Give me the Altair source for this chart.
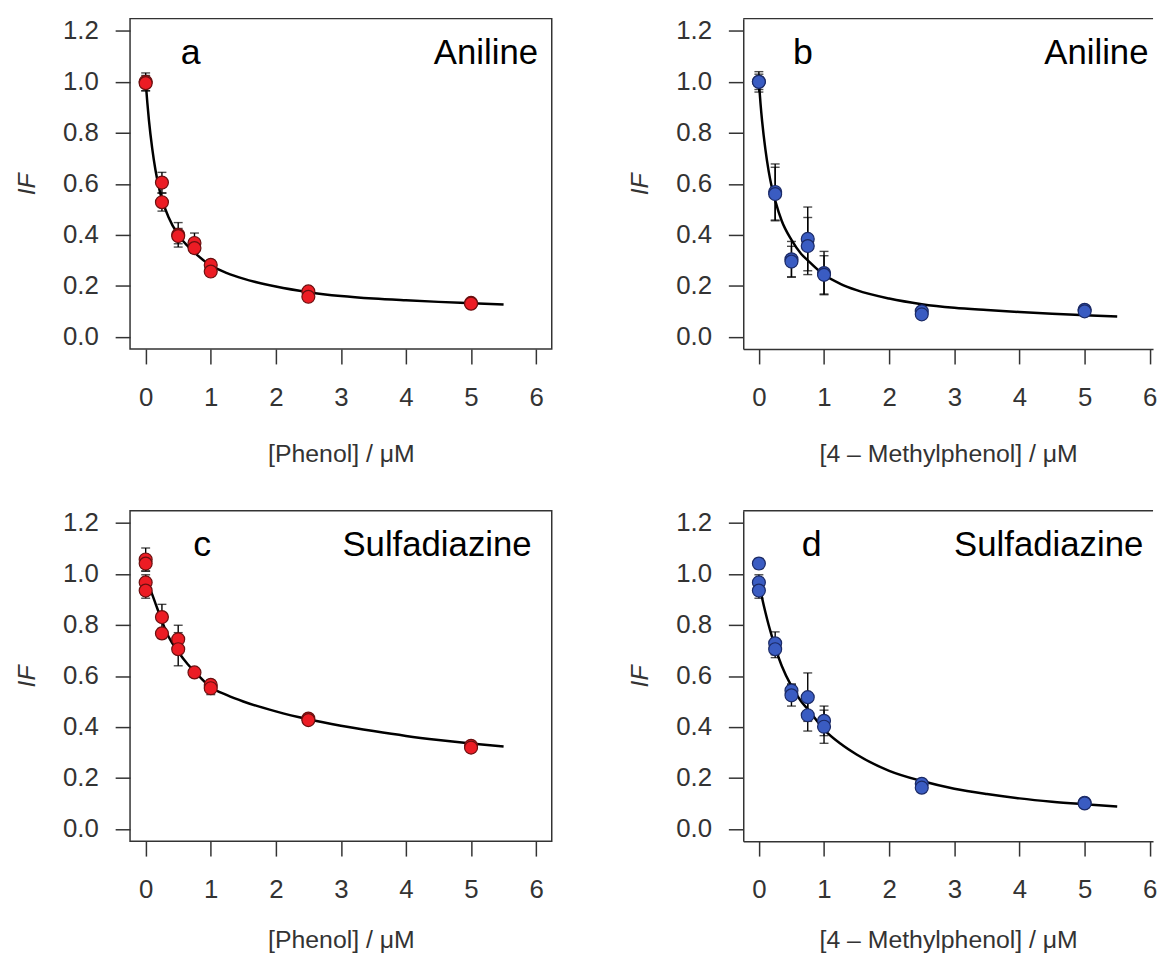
import altair as alt
import pandas as pd

# ---------------- data ----------------
# Panel a: Phenol / Aniline
a_x = [0, 0, 0.25, 0.25, 0.5, 0.5, 0.75, 0.75, 1.0, 1.0, 2.5, 2.5, 5.0, 5.0]
a_y = [1.00, 0.995, 0.605, 0.528, 0.400, 0.395, 0.368, 0.348, 0.282, 0.256, 0.178, 0.157, 0.133, 0.130]
a_err = [0.035, 0.03, 0.04, 0.035, 0.048, 0.03, 0.039, 0.02, 0.02, 0.015, 0.01, 0.01, 0.01, 0.008]

# Panel b: 4-Methylphenol / Aniline
b_x = [0, 0, 0.25, 0.25, 0.5, 0.5, 0.75, 0.75, 1.0, 1.0, 2.5, 2.5, 5.0, 5.0]
b_y = [1.00, 1.00, 0.568, 0.560, 0.304, 0.295, 0.384, 0.356, 0.250, 0.243, 0.100, 0.088, 0.106, 0.100]
b_err = [0.04, 0.03, 0.11, 0.105, 0.07, 0.06, 0.125, 0.112, 0.085, 0.075, 0.01, 0.01, 0.015, 0.01]

# Panel c: Phenol / Sulfadiazine
c_x = [0, 0, 0, 0, 0.25, 0.25, 0.5, 0.5, 0.75, 1.0, 1.0, 2.5, 2.5, 5.0, 5.0]
c_y = [1.057, 1.041, 0.967, 0.935, 0.831, 0.767, 0.744, 0.705, 0.614, 0.565, 0.552, 0.433, 0.427, 0.326, 0.319]
c_err = [0.045, 0.03, 0.03, 0.03, 0.05, 0.02, 0.055, 0.065, 0.01, 0.02, 0.025, 0.01, 0.01, 0.01, 0.01]

# Panel d: 4-Methylphenol / Sulfadiazine
d_x = [0, 0, 0, 0.25, 0.25, 0.5, 0.5, 0.75, 0.75, 1.0, 1.0, 2.5, 2.5, 5.0, 5.0]
d_y = [1.041, 0.967, 0.935, 0.728, 0.705, 0.543, 0.524, 0.517, 0.446, 0.424, 0.401, 0.177, 0.162, 0.103, 0.100]
d_err = [0.02, 0.03, 0.03, 0.045, 0.033, 0.026, 0.042, 0.095, 0.062, 0.058, 0.065, 0.01, 0.01, 0.01, 0.008]

# fitted curves
curve_x = [0, 0.025, 0.05, 0.1, 0.15, 0.2, 0.25, 0.35, 0.5, 0.65, 0.75, 1.0, 1.25, 1.5,
           2.0, 2.5, 3.0, 3.5, 4.0, 4.5, 5.0, 5.5]
a_curve = [1.00, 0.92, 0.85, 0.74, 0.655, 0.59, 0.54, 0.47, 0.40, 0.355, 0.33, 0.28, 0.25, 0.228,
           0.197, 0.175, 0.160, 0.150, 0.143, 0.137, 0.132, 0.127]
b_curve = [1.00, 0.915, 0.845, 0.735, 0.65, 0.585, 0.535, 0.455, 0.38, 0.325, 0.300, 0.243, 0.208, 0.183,
           0.150, 0.128, 0.114, 0.105, 0.097, 0.090, 0.085, 0.080]
c_curve = [0.99, 0.972, 0.955, 0.92, 0.885, 0.85, 0.815, 0.755, 0.695, 0.645, 0.618, 0.556, 0.525, 0.500,
           0.461, 0.430, 0.405, 0.384, 0.365, 0.349, 0.335, 0.323]
d_curve = [0.965, 0.935, 0.905, 0.85, 0.80, 0.755, 0.712, 0.64, 0.56, 0.50, 0.47, 0.39, 0.335, 0.292,
           0.228, 0.188, 0.158, 0.137, 0.120, 0.107, 0.097, 0.088]

x_ticks = [0, 1, 2, 3, 4, 5, 6]
y_ticks = [0.0, 0.2, 0.4, 0.6, 0.8, 1.0, 1.2]

FONT = "Liberation Sans"
FRAME = "#333333"
RED_FILL, RED_EDGE = "#ec1c24", "#6a1010"
BLUE_FILL, BLUE_EDGE = "#3a5cc2", "#1b2a66"

W, H = 425, 333
PX_PER_UNIT = W / 6.48


def panel(px, py, perr, cy, fill, edge, xtitle, letter, compound, letter_x, comp_x, clipped, tpad):
    pts = pd.DataFrame({"x": px, "y": py, "err": perr})
    cur = pd.DataFrame({"x": curve_x, "y": cy})
    xmax = 6.05 if clipped else 6.24
    width = round((xmax + 0.24) * PX_PER_UNIT)
    xs = alt.Scale(domain=[-0.24, xmax], nice=False, zero=False)
    ys = alt.Scale(domain=[-0.048, 1.248], nice=False, zero=False)
    common = dict(labelFont=FONT, titleFont=FONT, labelFontSize=26, titleFontSize=25,
                  labelColor="#333333", titleColor="#333333", tickColor=FRAME,
                  tickSize=15, tickWidth=1.5, grid=False, domain=clipped,
                  domainColor=FRAME, domainWidth=1.5, titleFontWeight="normal")
    xaxis = alt.Axis(values=x_ticks, format="d", title=xtitle, labelPadding=21, titlePadding=tpad, **common)
    yaxis = alt.Axis(values=y_ticks, format=".1f", title="IF", titleFontStyle="italic",
                     labelPadding=17, titlePadding=23, **common)

    def X(f):
        return alt.X(f, type="quantitative", scale=xs, axis=xaxis)

    def Y(f):
        return alt.Y(f, type="quantitative", scale=ys, axis=yaxis)

    line = alt.Chart(cur).mark_line(color="black", strokeWidth=2.5, interpolate="monotone").encode(
        x=X("x"), y=Y("y"))
    base = alt.Chart(pts).transform_calculate(lo="datum.y - datum.err", hi="datum.y + datum.err")
    bars = base.mark_rule(color="black", strokeWidth=1.4).encode(x=X("x"), y=Y("lo"), y2="hi:Q")
    cap_lo = base.mark_tick(orient="horizontal", size=9, thickness=1.4, color="black").encode(
        x=X("x"), y=Y("lo"))
    cap_hi = base.mark_tick(orient="horizontal", size=9, thickness=1.4, color="black").encode(
        x=X("x"), y=Y("hi"))
    dots = alt.Chart(pts).mark_point(shape="circle", filled=True, size=170, fill=fill, stroke=edge,
                                     strokeWidth=1.2, opacity=1).encode(x=X("x"), y=Y("y"))
    one = pd.DataFrame({"k": [0]})
    t_letter = alt.Chart(one).mark_text(text=letter, font=FONT, fontSize=36, align="center",
                                        baseline="alphabetic", color="black").encode(
        x=alt.datum(letter_x), y=alt.datum(1.07))
    t_comp = alt.Chart(one).mark_text(text=compound, font=FONT, fontSize=35, align="right",
                                      baseline="alphabetic", color="black").encode(
        x=alt.datum(comp_x), y=alt.datum(1.07))
    layers = [line, bars, cap_lo, cap_hi, dots, t_letter, t_comp]
    if clipped:
        top = alt.Chart(one).mark_rule(color=FRAME, strokeWidth=1.5).encode(
            x=alt.value(0), x2=alt.value(width), y=alt.value(0))
        layers.append(top)
        ch = alt.layer(*layers).properties(width=width, height=H,
                                           view=alt.ViewBackground(stroke="transparent"))
    else:
        ch = alt.layer(*layers).properties(width=width, height=H)
    return ch


pa = panel(a_x, a_y, a_err, a_curve, RED_FILL, RED_EDGE, "[Phenol] / \u03bcM", "a", "Aniline",
           0.69, 6.03, False, 31)
pb = panel(b_x, b_y, b_err, b_curve, BLUE_FILL, BLUE_EDGE, "[4 \u2013 Methylphenol] / \u03bcM", "b", "Aniline",
           0.675, 5.98, True, 31)
pc = panel(c_x, c_y, c_err, c_curve, RED_FILL, RED_EDGE, "[Phenol] / \u03bcM", "c", "Sulfadiazine",
           0.87, 5.93, False, 25)
pd_ = panel(d_x, d_y, d_err, d_curve, BLUE_FILL, BLUE_EDGE, "[4 \u2013 Methylphenol] / \u03bcM", "d", "Sulfadiazine",
            0.81, 5.90, True, 25)

chart = alt.vconcat(
    alt.hconcat(pa, pb, spacing=75),
    alt.hconcat(pc, pd_, spacing=75),
    spacing=42,
).properties(
    padding={"left": 6, "top": 5, "right": 0, "bottom": 0},
    background="white",
).configure_view(stroke=FRAME, strokeWidth=1.5)

chart.save("out.html", embed_options={"renderer": "svg", "actions": False})
